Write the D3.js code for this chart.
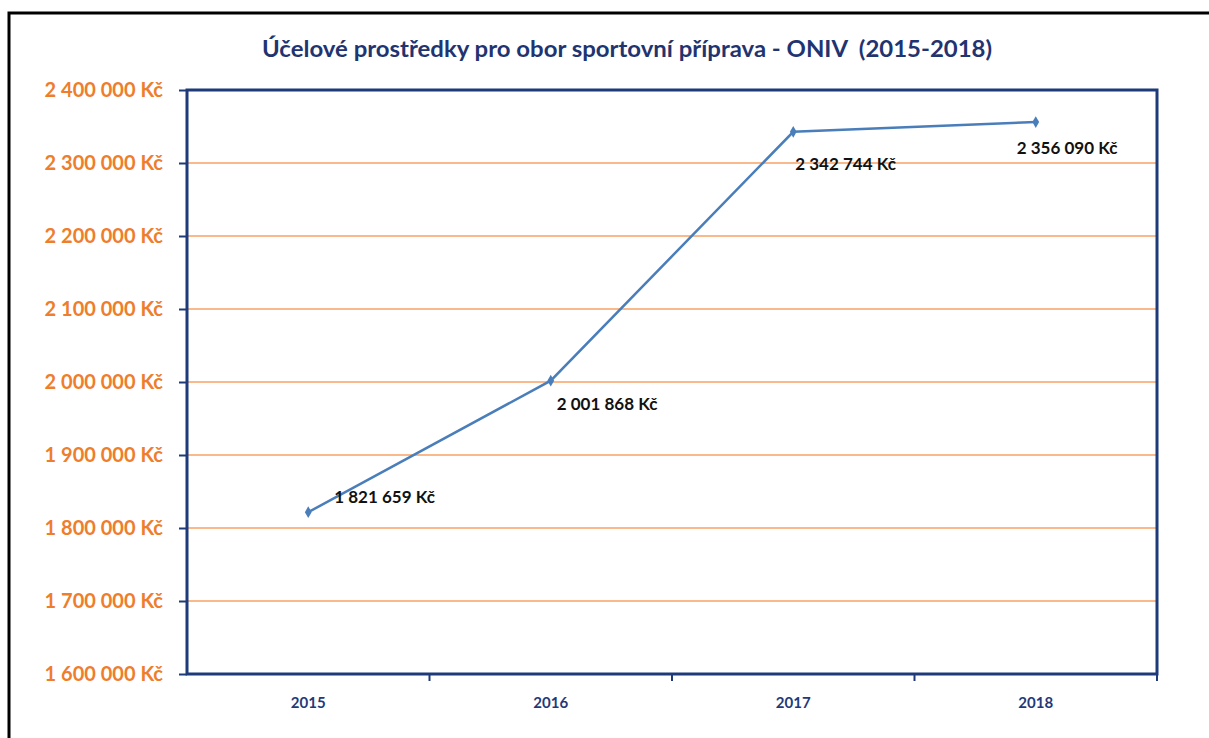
<!DOCTYPE html>
<html>
<head>
<meta charset="utf-8">
<script src="https://cdn.jsdelivr.net/npm/d3@7"></script>
<style>
  body { margin: 0; background: #fff; }
  svg { display: block; font-family: Lato, "Open Sans", sans-serif; }
</style>
</head>
<body>
<svg id="chart" width="1209" height="738"></svg>
<script>
// data
var years = ["2015", "2016", "2017", "2018"];
var amounts = [1821659, 2001868, 2342744, 2356090];
var yTicks = [1600000, 1700000, 1800000, 1900000, 2000000, 2100000, 2200000, 2300000, 2400000];
var title = "Účelové prostředky pro obor sportovní příprava - ONIV\u00a0\u00a0(2015-2018)";

var svg = d3.select("#chart");
var margin = { left: 187, top: 90, right: 52, bottom: 64 };
var W = 1209, H = 738;
var iw = W - margin.left - margin.right, ih = H - margin.top - margin.bottom;

// outer frame
svg.append("rect")
    .attr("x", 9).attr("y", 13)
    .attr("width", 1220).attr("height", 760)
    .attr("fill", "none").attr("stroke", "#000").attr("stroke-width", 3);

svg.append("text")
    .attr("x", 627).attr("y", 57)
    .attr("text-anchor", "middle")
    .attr("fill", "#1f3470")
    .attr("font-size", 23).attr("font-weight", "bold")
    .attr("textLength", 730).attr("lengthAdjust", "spacingAndGlyphs")
    .text(title);

var g = svg.append("g").attr("transform", "translate(" + margin.left + "," + margin.top + ")");

var x = d3.scaleBand().domain(years).range([0, iw]);
var y = d3.scaleLinear().domain([1600000, 2400000]).range([ih, 0]);

var fmt = function (v) { return d3.format(",")(v).replace(/,/g, " ") + " Kč"; };

// gridlines
g.selectAll(".grid").data(yTicks.slice(1, -1)).enter().append("line")
    .attr("x1", 0).attr("x2", iw)
    .attr("y1", function (d) { return y(d); }).attr("y2", function (d) { return y(d); })
    .attr("stroke", "#f7a264").attr("stroke-width", 1.5);

// y axis
var yAxis = g.append("g").call(d3.axisLeft(y).tickValues(yTicks).tickFormat(fmt).tickSize(8).tickPadding(16));
yAxis.select(".domain").remove();
yAxis.selectAll(".tick line").attr("stroke", "#1f3a7a").attr("stroke-width", 2);
yAxis.selectAll(".tick text")
    .attr("fill", "#ee7d2c").attr("font-size", 20).attr("font-weight", "bold")
    .attr("font-family", "Lato, sans-serif");

// x axis
var bounds = years.map(function (d) { return x(d); }).concat([iw]);
var xAxis = g.append("g").attr("transform", "translate(0," + ih + ")");
xAxis.selectAll("line").data(bounds.slice(1)).enter().append("line")
    .attr("x1", function (d) { return d; }).attr("x2", function (d) { return d; })
    .attr("y1", 0).attr("y2", 7)
    .attr("stroke", "#1f3a7a").attr("stroke-width", 2);
xAxis.selectAll("text").data(years).enter().append("text")
    .attr("x", function (d) { return x(d) + x.bandwidth() / 2; })
    .attr("y", 34)
    .attr("text-anchor", "middle")
    .attr("fill", "#1f3a7a").attr("font-size", 15).attr("font-weight", "bold")
    .text(function (d) { return d; });

// plot frame
g.append("rect")
    .attr("x", 0).attr("y", 0).attr("width", iw).attr("height", ih)
    .attr("fill", "none").attr("stroke", "#1f3a7a").attr("stroke-width", 3);

// line
var pts = years.map(function (d, i) { return { year: d, v: amounts[i] }; });
var line = d3.line()
    .x(function (d) { return x(d.year) + x.bandwidth() / 2; })
    .y(function (d) { return y(d.v); });
g.append("path").datum(pts)
    .attr("d", line)
    .attr("fill", "none").attr("stroke", "#4a7ebb").attr("stroke-width", 2.5);

g.selectAll(".mk").data(pts).enter().append("path")
    .attr("d", d3.symbol().type(d3.symbolDiamond).size(40))
    .attr("transform", function (d) { return "translate(" + (x(d.year) + x.bandwidth() / 2) + "," + y(d.v) + ")"; })
    .attr("fill", "#4a7ebb");

// data labels
var labelOff = [[26, -9], [6, 29], [2, 38], [-19, 32]];
g.selectAll(".lbl").data(pts).enter().append("text")
    .attr("x", function (d, i) { return x(d.year) + x.bandwidth() / 2 + labelOff[i][0]; })
    .attr("y", function (d, i) { return y(d.v) + labelOff[i][1]; })
    .attr("fill", "#111").attr("font-size", 17).attr("font-weight", "bold")
    .text(function (d) { return fmt(d.v); });
</script>
</body>
</html>
